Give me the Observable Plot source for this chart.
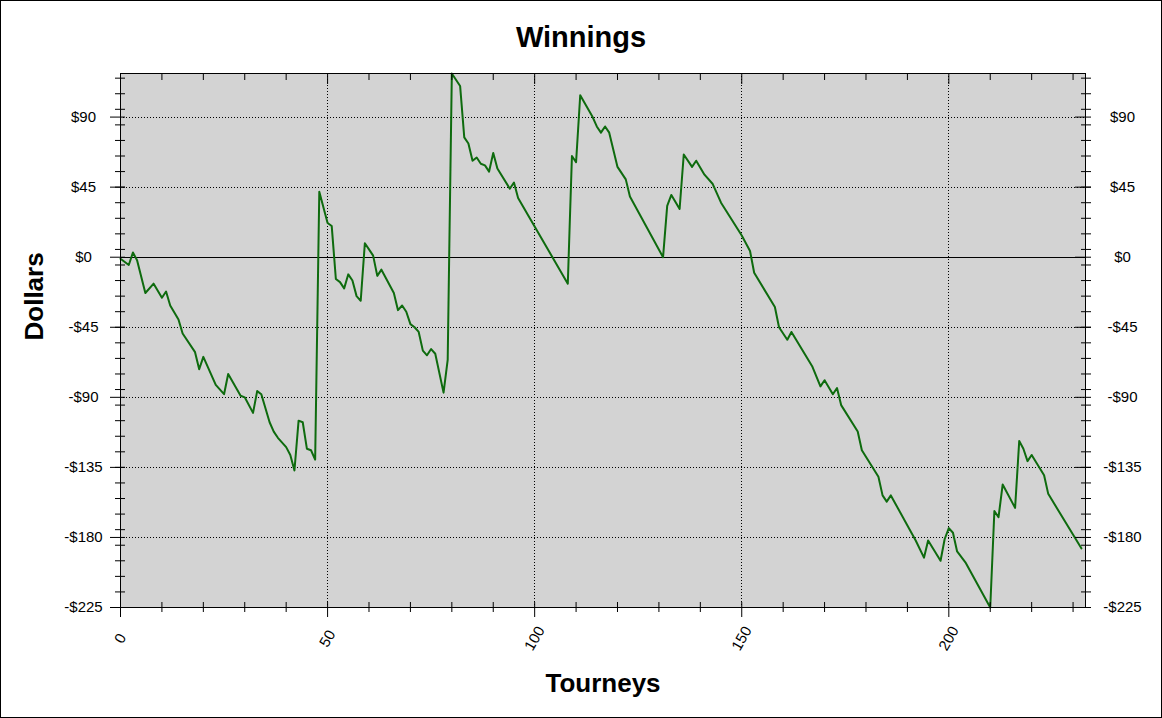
<!DOCTYPE html>
<html>
<head>
<meta charset="utf-8">
<script src="https://cdn.jsdelivr.net/npm/d3@7"></script>
<script src="https://cdn.jsdelivr.net/npm/@observablehq/plot@0.6"></script>
<style>
  body { margin: 0; background: #ffffff; }
  #chart { width: 1162px; height: 718px; }
</style>
</head>
<body>
<div id="chart"></div>
<script>
// Tourney index (x) and cumulative winnings (y) at the line's vertices
const tourneys = [0,2,3,4,6,8,10,11,12,14,15,18,19,20,23,25,26,29,30,32,33,34,36,37,38,40,41,42,43,44,45,46,47,
  48,50,51,52,53,54,55,56,57,58,59,60,61,62,63,64,66,67,68,69,70,71,72,73,74,75,76,78,79,
  80,82,83,84,85,86,87,88,89,90,91,94,95,96,108,
  109,110,111,114,115,116,117,118,120,122,123,131,
  132,133,135,136,138,139,141,143,145,150,152,153,158,159,161,162,167,169,170,172,173,174,178,179,183,184,185,186,
  192,194,195,198,199,200,201,202,204,210,
  211,212,213,216,217,218,219,220,223,224,232];
const dollars = [-1,-5,3,-2,-23,-17,-26,-22,-31,-40,-49,-61,-72,-64,-82,-88,-75,-89,-90,-100,-86,-88,-106,-112,-116,-122,-127,-137,-105,-106,-123,-124,-130,
  42,22,20,-14,-16,-20,-11,-15,-25,-28,9,5,1,-12,-8,-13,-23,-34,-31,-35,-43,-45,-48,-60,-63,-59,-62,-87,-66,
  118,110,77,73,62,64,60,59,55,67,57,44,48,38,-17,
  65,61,104,90,84,80,84,80,58,50,39,0,
  33,40,31,66,58,62,53,47,35,14,4,-10,-32,-45,-53,-48,-70,-83,-79,-88,-84,-95,-112,-124,-141,-153,-157,-153,
  -182,-193,-182,-195,-181,-174,-177,-189,-196,-225,
  -163,-167,-146,-161,-118,-123,-131,-127,-140,-152,-187];

// Axis ticks
const yMajor = [-225,-180,-135,-90,-45,0,45,90];
const yGrid = [-180,-135,-90,-45,45,90];
const yMinor = d3.range(-215, 120, 10);
const xMajor = [0,50,100,150,200];
const xGrid = [50,100,150,200];
const xMinor = d3.range(10, 240, 10).filter(v => v % 50 !== 0);
const xTopMajor = [50,100,150,200];

const data = tourneys.map((t, i) => ({t, v: dollars[i]}));
const fmt = d => d < 0 ? "-$" + Math.abs(d) : "$" + d;
const blank = () => "";

const plot = Plot.plot({
  width: 1162,
  height: 718,
  marginLeft: 120,
  marginRight: 77,
  marginTop: 73,
  marginBottom: 111,
  style: {fontFamily: "'Liberation Sans', Arial, sans-serif", fontSize: "15px", color: "black", background: "white", overflow: "visible"},
  x: {domain: [0, 233], label: null},
  y: {domain: [-225, 118], label: null},
  marks: [
    Plot.frame({fill: "#d3d3d3"}),
    Plot.ruleY(yGrid, {stroke: "black", strokeDasharray: "1,2", strokeWidth: 1, shapeRendering: "crispEdges"}),
    Plot.ruleX(xGrid, {stroke: "black", strokeDasharray: "1,2", strokeWidth: 1, shapeRendering: "crispEdges"}),
    Plot.ruleY([0], {stroke: "black", strokeWidth: 1, shapeRendering: "crispEdges"}),
    Plot.line(data, {x: "t", y: "v", stroke: "#0e6b0e", strokeWidth: 2}),
    Plot.frame({stroke: "black", strokeWidth: 1, shapeRendering: "crispEdges"}),
    // left axis
    Plot.axisY(yMajor, {anchor: "left", tickSize: 15, dx: 5, tickPadding: 27, textAnchor: "middle", tickFormat: fmt, fontSize: 15, label: null}),
    Plot.axisY(yMinor, {anchor: "left", tickSize: 10, dx: 5, tickFormat: blank, label: null}),
    // right axis
    Plot.axisY(yMajor, {anchor: "right", tickSize: 16, dx: -11, tickPadding: 32, textAnchor: "middle", tickFormat: fmt, fontSize: 15, label: null}),
    Plot.axisY(yMinor, {anchor: "right", tickSize: 10, dx: -5, tickFormat: blank, label: null}),
    // bottom axis
    Plot.axisX(xMajor, {anchor: "bottom", tickSize: 15, dy: -5, tickPadding: 21, tickRotate: -60, textAnchor: "middle", lineAnchor: "middle", fontSize: 15, label: null}),
    Plot.axisX(xMinor, {anchor: "bottom", tickSize: 10, dy: -5, tickFormat: blank, label: null}),
    // top axis (inward ticks)
    Plot.axisX(xMinor, {anchor: "top", tickSize: 6, dy: 6, tickFormat: blank, label: null}),
    Plot.axisX(xTopMajor, {anchor: "top", tickSize: 10, dy: 10, tickFormat: blank, label: null}),
    // titles
    Plot.text(["Winnings"], {text: d => d, frameAnchor: "top", dx: -22, dy: -36, fontSize: 29, fontWeight: "bold", lineAnchor: "middle"}),
    Plot.text(["Tourneys"], {text: d => d, frameAnchor: "bottom", dy: 76, fontSize: 26, fontWeight: "bold", lineAnchor: "middle"}),
    Plot.text(["Dollars"], {text: d => d, frameAnchor: "left", dx: -86, rotate: -90, fontSize: 26, fontWeight: "bold", lineAnchor: "middle"})
  ]
});

document.getElementById("chart").append(plot);
d3.select(plot).append("rect")
  .attr("x", 0.5).attr("y", 0.5)
  .attr("width", 1161).attr("height", 717)
  .attr("fill", "none").attr("stroke", "black");
</script>
</body>
</html>
